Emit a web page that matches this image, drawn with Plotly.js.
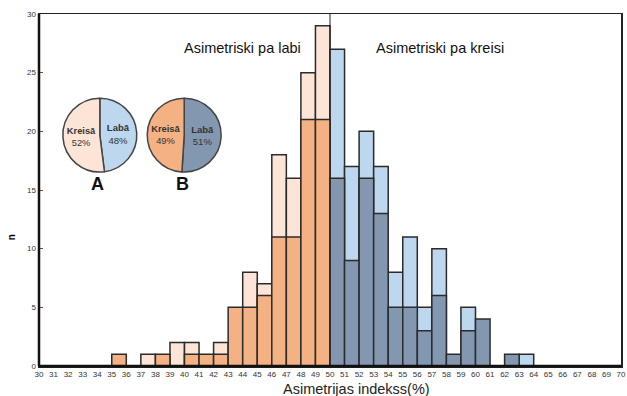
<!DOCTYPE html>
<html>
<head>
<meta charset="utf-8">
<script src="https://cdn.plot.ly/plotly-3.0.1.min.js"></script>
<style>html,body{margin:0;padding:0;background:#fff;}#chart{width:627px;height:396px;}</style>
</head>
<body>
<div id="chart"></div>
<script>
// Histogram bins (lower edge of each 1% bin)
const binStart = [35,36,37,38,39,40,41,42,43,44,45,46,47,48,49,50,51,52,53,54,55,56,57,58,59,60,61,62,63];
// Group A (light colours)
const countsA  = [0,0,1,0,2,2,0,2,0,8,7,18,16,25,29,27,17,20,17,8,11,5,10,0,5,0,0,0,1];
// Group B (dark colours)
const countsB  = [1,0,0,1,0,1,1,1,5,5,6,11,11,21,21,16,9,16,13,5,5,3,6,1,3,4,0,1,0];
const xTicks = [];
for (let v = 30; v <= 70; v++) xTicks.push(v);
const yTicks = [0,5,10,15,20,25,30];

const pieLabels = ['Labā','Kreisā'];
const pieA = [48,52];
const pieB = [51,49];

const splitAt = 50;
const centers = binStart.map(b => b + 0.5);
const colA = binStart.map(b => b < splitAt ? '#fce4d6' : '#bdd7ee');
const colB = binStart.map(b => b < splitAt ? '#f4b183' : '#8497b0');

const barLine = {color:'#2b2b2b', width:1.5};
const pieFont = {family:'Liberation Sans, Arial, sans-serif', size:9.5, color:'#333'};
const traces = [
  {type:'bar', x:centers, y:countsA, width:1, marker:{color:colA, line:barLine}, hoverinfo:'x+y', showlegend:false},
  {type:'bar', x:centers, y:countsB, width:1, marker:{color:colB, line:barLine}, hoverinfo:'x+y', showlegend:false},
  {type:'pie', values:pieA, labels:pieLabels, sort:false, direction:'clockwise', rotation:0,
   domain:{x:[0.041,0.168], y:[0.551,0.761]},
   marker:{colors:['#bdd7ee','#fce4d6'], line:{color:'#444', width:1.5}},
   texttemplate:'<b>%{label}</b><br>%{percent:.0%}', textposition:'inside', insidetextorientation:'horizontal',
   textfont:pieFont, showlegend:false},
  {type:'pie', values:pieB, labels:pieLabels, sort:false, direction:'clockwise', rotation:0,
   domain:{x:[0.186,0.313], y:[0.551,0.761]},
   marker:{colors:['#8497b0','#f4b183'], line:{color:'#444', width:1.5}},
   texttemplate:'<b>%{label}</b><br>%{percent:.0%}', textposition:'inside', insidetextorientation:'horizontal',
   textfont:pieFont, showlegend:false}
];

const layout = {
  width:627, height:396,
  margin:{l:39, r:6, t:14, b:30},
  paper_bgcolor:'#fff', plot_bgcolor:'#fff',
  barmode:'overlay', bargap:0,
  font:{family:'Liberation Sans, Arial, sans-serif', color:'#444'},
  xaxis:{range:[30,70], tickvals:xTicks, ticktext:xTicks.map(String), tickfont:{size:8, color:'#333'},
         showgrid:false, zeroline:false, showline:true, linecolor:'#222', linewidth:1.5, mirror:true, ticks:'', fixedrange:true},
  yaxis:{range:[0,30], tickvals:yTicks, ticktext:yTicks.map(String), tickfont:{size:8, color:'#333'},
         showgrid:false, zeroline:false, showline:true, linecolor:'#222', linewidth:1.5, mirror:true,
         ticks:'inside', ticklen:4, tickcolor:'#555', fixedrange:true},
  shapes:[
    {type:'line', xref:'x', yref:'y', x0:50, x1:50, y0:0, y1:30, line:{color:'#222', width:1}},
    {type:'line', xref:'paper', yref:'paper', x0:0, x1:1, y0:0, y1:0, line:{color:'#111', width:2.5}},
    {type:'line', xref:'paper', yref:'paper', x0:0, x1:0, y0:0, y1:1, line:{color:'#111', width:2.5}}
  ],
  annotations:[
    {text:'Asimetriski pa labi', xref:'x', yref:'y', x:44.0, y:27.1, xanchor:'center', yanchor:'middle', showarrow:false, font:{size:14.5, color:'#111'}},
    {text:'Asimetriski pa kreisi', xref:'x', yref:'y', x:57.53, y:27.1, xanchor:'center', yanchor:'middle', showarrow:false, font:{size:14.5, color:'#111'}},
    {text:'Asimetrijas indekss(%)', xref:'paper', yref:'paper', x:0.546, y:-0.066, xanchor:'center', yanchor:'middle', showarrow:false, font:{size:14.5, color:'#222'}},
    {text:'<b>A</b>', xref:'paper', yref:'paper', x:0.101, y:0.517, xanchor:'center', yanchor:'middle', showarrow:false, font:{size:18, color:'#111'}},
    {text:'<b>B</b>', xref:'paper', yref:'paper', x:0.247, y:0.517, xanchor:'center', yanchor:'middle', showarrow:false, font:{size:18, color:'#111'}},
    {text:'<b>n</b>', xref:'paper', yref:'paper', x:-0.047, y:0.365, xanchor:'center', yanchor:'middle', textangle:-90, showarrow:false, font:{size:10, color:'#000'}}
  ]
};

Plotly.newPlot('chart', traces, layout, {displayModeBar:false, staticPlot:true});
</script>
</body>
</html>
